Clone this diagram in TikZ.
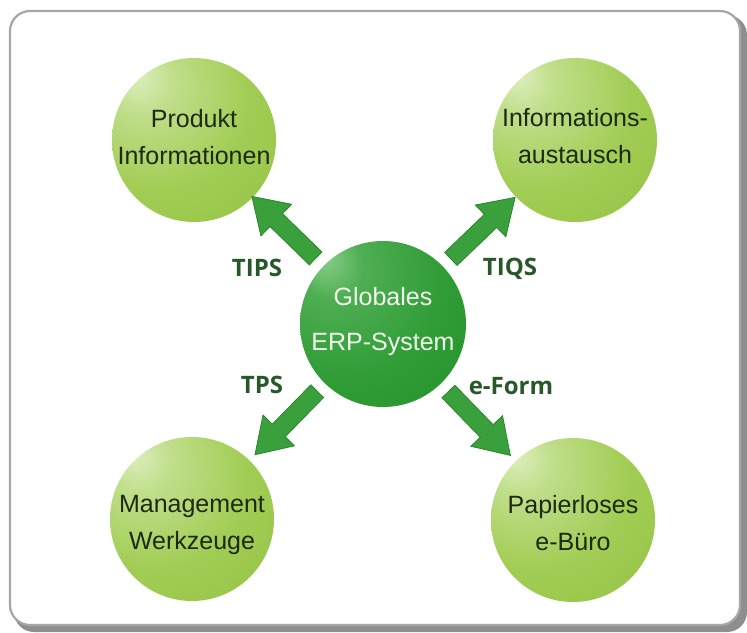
\documentclass[tikz,border=0pt]{standalone}
\usepackage{fontspec}
\setmainfont{Liberation Sans}
\newfontfamily\tagfont{Open Sans}
\usetikzlibrary{calc}

\definecolor{frameline}{HTML}{A6A6A6}
\definecolor{frameshadow}{HTML}{8E8E8E}
\definecolor{olight}{HTML}{DDEFBE}
\definecolor{omid}{HTML}{A2CD55}
\definecolor{oedge}{HTML}{8BBD38}
\definecolor{clight}{HTML}{8ACF8A}
\definecolor{cmid}{HTML}{2F9C35}
\definecolor{cedge}{HTML}{1E8A28}
\definecolor{arrowfill}{HTML}{3AA03C}
\definecolor{arrowline}{HTML}{2C8530}
\definecolor{tagcolor}{HTML}{28582A}
\definecolor{ballText}{HTML}{1C2A12}
\definecolor{hubText}{HTML}{F2F9EE}

% spherical look: highlight offset to the upper left
\pgfdeclareradialshading{outerball}{\pgfpoint{-18bp}{20bp}}{%
  color(0bp)=(olight); color(10bp)=(olight!50!omid); color(28bp)=(omid);
  color(60bp)=(oedge); color(80bp)=(oedge)}
\pgfdeclareradialshading{hubball}{\pgfpoint{-18bp}{20bp}}{%
  color(0bp)=(clight); color(10bp)=(clight!35!cmid); color(30bp)=(cmid);
  color(60bp)=(cedge); color(80bp)=(cedge)}

\tikzset{
  ball/.style={circle, minimum size=164pt, inner sep=0pt, shade, shading=outerball},
  hub/.style={circle, minimum size=166pt, inner sep=0pt, shade, shading=hubball},
  balltext/.style={align=center, text=ballText,
    font=\fontsize{25}{37}\selectfont},
  hubtext/.style={align=center, text=hubText,
    font=\fontsize{25}{45}\selectfont},
  tag/.style={text=tagcolor, font=\tagfont\bfseries\fontsize{24}{27}\selectfont},
  fatarrow/.style={fill=arrowfill, draw=arrowline, line width=0.8pt, line join=miter}
}

% broad block arrow from node #1 towards node #2
\newcommand\blockarrow[2]{%
  \coordinate (T) at ($(#1)!94pt!(#2)$);
  \coordinate (B) at ($(#1)!149pt!(#2)$);
  \coordinate (P) at ($(#1)!183pt!(#2)$);
  \path[fatarrow]
    ($(T)!9pt!90:(P)$) -- ($(B)!9pt!90:(P)$) -- ($(B)!22pt!90:(P)$) -- (P)
    -- ($(B)!22pt!-90:(P)$) -- ($(B)!9pt!-90:(P)$) -- ($(T)!9pt!-90:(P)$) -- cycle;
}

\begin{document}
\begin{tikzpicture}[x=1pt, y=-1pt]
  \useasboundingbox (0,0) rectangle (747,632);

  % framed panel with drop shadow
  \fill[frameshadow, rounded corners=20pt] (14,15) rectangle (747,632);
  \draw[frameline, fill=white, line width=2.2pt, rounded corners=20pt]
    (10,11) rectangle (740,625);

  % spheres
  \node[hub]  (hub) at (383,324) {};
  \node[ball] (tl)  at (194,140) {};
  \node[ball] (tr)  at (575,140) {};
  \node[ball] (bl)  at (192,519) {};
  \node[ball] (br)  at (573,520) {};

  % arrows from the central system to the four topics
  \blockarrow{hub}{tl}
  \blockarrow{hub}{tr}
  \blockarrow{hub}{bl}
  \blockarrow{hub}{br}

  % sphere texts
  \node[hubtext]  (hubt) at (383,322) {Globales\\ERP-System};
  \node[balltext] (tlt)  at (194,137) {Produkt\\Informationen};
  \node[balltext] (trt)  at (575,136) {Informations-\\austausch};
  \node[balltext] (blt)  at (192,525) {Management\\Werkzeuge};
  \node[balltext] (brt)  at (573,523) {Papierloses\\e-Büro};

  % arrow labels
  \node[tag] (tips)  at (257,268) {TIPS};
  \node[tag] (tiqs)  at (510,269) {TIQS};
  \node[tag] (tps)   at (262,385) {TPS};
  \node[tag] (eform) at (511,386) {e-Form};
\end{tikzpicture}
\end{document}
